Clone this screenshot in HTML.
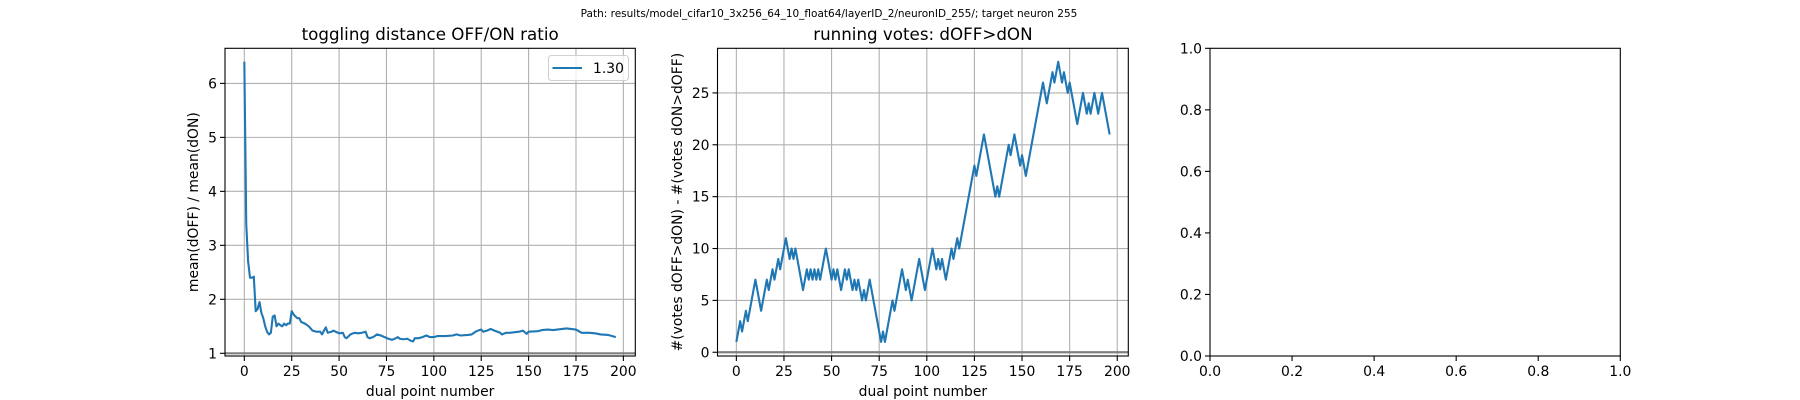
<!DOCTYPE html>
<html><head><meta charset="utf-8">
<style>
html,body{margin:0;padding:0;background:#fff;}
svg{display:block;font-family:"DejaVu Sans","Liberation Sans",sans-serif;}
</style></head>
<body>
<svg id="fig" width="1800" height="400" viewBox="0 0 1800 400">
<text x="829" y="17" font-size="10.5" text-anchor="middle" fill="#000">Path: results/model_cifar10_3x256_64_10_float64/layerID_2/neuronID_255/; target neuron 255</text>
</svg>
<script>
// Panel 1 data: ratio mean(dOFF)/mean(dON)
const ratioX = [0,1,2,3,4,5,6,7,8,9,10,11,12,13,14,15,16,17,18,19,20,21,22,23,24,25,26,27,28,29,30,32,34,36,38,40,41,42,43,44,46,47,50,52,53,54,56,58,60,62,64,65,66,68,70,72,74,76,78,80,81,82,84,86,88,89,90,92,94,96,98,100,102,106,110,112,114,118,120,122,124,125,126,128,130,132,135,136,138,140,145,147,149,150,155,157,160,163,165,170,175,178,182,185,188,192,194,196];
const ratioY = [6.4,3.4,2.7,2.4,2.4,2.42,1.78,1.82,1.95,1.75,1.65,1.5,1.4,1.35,1.38,1.68,1.7,1.5,1.55,1.52,1.5,1.55,1.52,1.55,1.55,1.78,1.72,1.68,1.65,1.65,1.58,1.55,1.5,1.42,1.4,1.4,1.35,1.42,1.48,1.38,1.4,1.42,1.37,1.38,1.3,1.28,1.35,1.38,1.37,1.38,1.4,1.3,1.28,1.3,1.35,1.33,1.3,1.27,1.25,1.28,1.3,1.27,1.26,1.27,1.23,1.22,1.28,1.28,1.3,1.33,1.3,1.3,1.32,1.32,1.33,1.35,1.33,1.34,1.35,1.4,1.43,1.44,1.4,1.42,1.45,1.42,1.38,1.35,1.38,1.38,1.4,1.42,1.36,1.4,1.41,1.43,1.44,1.43,1.44,1.46,1.44,1.38,1.38,1.37,1.35,1.34,1.32,1.3];
const ratioYTicks = [1,2,3,4,5,6];
const xTicks = [0,25,50,75,100,125,150,175,200];
const legendLabel = "1.30";

// Panel 2 data: running votes (turning points of the walk)
const votesX = [0,2,3,5,6,10,13,16,17,19,20,22,23,26,28,29,30,31,35,37,38,39,40,41,42,43,44,47,50,51,52,53,55,57,58,59,61,62,63,64,66,67,68,70,76,77,78,82,83,87,89,90,92,96,99,103,105,106,107,108,110,113,114,116,117,125,126,130,136,137,138,143,144,146,149,150,152,161,163,166,167,169,171,172,174,175,179,182,184,185,186,188,190,192,196];
const votesY = [1,3,2,4,3,7,4,7,6,8,7,9,8,11,9,10,9,10,6,8,7,8,7,8,7,8,7,10,7,8,7,8,6,8,7,8,6,7,6,7,5,6,5,7,1,2,1,5,4,8,6,7,5,9,6,10,8,9,8,9,7,10,9,11,10,18,17,21,15,16,15,20,19,21,18,19,17,26,24,27,26,28,26,27,25,26,22,25,23,24,23,25,23,25,21];
const votesYTicks = [0,5,10,15,20,25];

// Panel 3 (empty)
const unitTicks = [0,0.2,0.4,0.6,0.8,1.0];
const unitLabels = ["0.0","0.2","0.4","0.6","0.8","1.0"];

const NS = "http://www.w3.org/2000/svg";
const fig = document.getElementById('fig');
function mk(tag, attrs, parent){
  const e = document.createElementNS(NS, tag);
  for (const k in attrs) e.setAttribute(k, attrs[k]);
  (parent||fig).appendChild(e);
  return e;
}
function makeScale(d0,d1,r0,r1){ return v => r0 + (v-d0)/(d1-d0)*(r1-r0); }

const TOP = 48.3, BOT = 356;

function panel(opts){
  const g = mk('g', {});
  
  
  const sx = makeScale(opts.xlim[0], opts.xlim[1], opts.left, opts.right);
  const sy = makeScale(opts.ylim[0], opts.ylim[1], BOT, TOP);
  if (opts.grid){
    opts.xt.forEach(v=>{ const x=sx(v);
      const l=mk('line',{x1:x,x2:x,y1:TOP,y2:BOT,stroke:'#b0b0b0','stroke-width':1.1},g);
        });
    opts.yt.forEach(v=>{ const y=sy(v);
      const l=mk('line',{x1:opts.left,x2:opts.right,y1:y,y2:y,stroke:'#b0b0b0','stroke-width':1.1},g);
        });
  }
  if (opts.hline !== undefined){
    const y = sy(opts.hline);
    const l=mk('line',{x1:opts.left,x2:opts.right,y1:y,y2:y,stroke:'#808080','stroke-width':2.2},g);
     
  }
  if (opts.sx){
    const pts = opts.sx.map((v,i)=>sx(v).toFixed(2)+','+sy(opts.sy[i]).toFixed(2)).join(' ');
    const p = mk('polyline',{points:pts,fill:'none',stroke:'#1f77b4','stroke-width':2.1,'stroke-linejoin':'round'},g);
    
    
  }
  const fr = mk('rect',{x:opts.left,y:TOP,width:opts.right-opts.left,height:BOT-TOP,fill:'none',stroke:'#000','stroke-width':1.1},g);
   
  opts.xt.forEach((v,i)=>{ const x=sx(v);
    mk('line',{x1:x,x2:x,y1:BOT,y2:BOT+5,stroke:'#000','stroke-width':1.1},g);
    const t=mk('text',{x:x,y:BOT+20,'font-size':13.9,'text-anchor':'middle',fill:'#000'},g);
    t.textContent = opts.xl ? opts.xl[i] : String(v);
      });
  opts.yt.forEach((v,i)=>{ const y=sy(v);
    mk('line',{x1:opts.left-5,x2:opts.left,y1:y,y2:y,stroke:'#000','stroke-width':1.1},g);
    const t=mk('text',{x:opts.left-8,y:y+5,'font-size':13.9,'text-anchor':'end',fill:'#000'},g);
    t.textContent = opts.yl ? opts.yl[i] : String(v);
      });
  const cx = (opts.left+opts.right)/2;
  if (opts.title){
    const t=mk('text',{x:cx,y:40,'font-size':16.7,'text-anchor':'middle',fill:'#000'},g);
    t.textContent=opts.title;  
  }
  if (opts.xlabel){
    const t=mk('text',{x:cx,y:396,'font-size':13.9,'text-anchor':'middle',fill:'#000'},g);
    t.textContent=opts.xlabel;  
  }
  if (opts.ylabel){
    const yc=(TOP+BOT)/2;
    const t=mk('text',{x:opts.ylx,y:yc,'font-size':13.9,'text-anchor':'middle',fill:'#000',transform:`rotate(-90 ${opts.ylx} ${yc})`},g);
    t.textContent=opts.ylabel;  
  }
  return g;
}

const g1 = panel({name:'ratio-panel',left:225,right:635.3,xlim:[-10.2,206.3],ylim:[0.95,6.65],
  xt:xTicks,yt:ratioYTicks,grid:true,hline:1,sx:ratioX,sy:ratioY,seriesName:'ratio-line',
  title:'toggling distance OFF/ON ratio',xlabel:'dual point number',ylabel:'mean(dOFF) / mean(dON)',ylx:198});
// legend
const lg = mk('g',{},g1);
 
mk('rect',{x:548.5,y:55.5,width:80,height:25,rx:3,fill:'#fff','fill-opacity':0.8,stroke:'#d0d0d0','stroke-width':1},lg);
const ll = mk('line',{x1:552.5,x2:582,y1:68,y2:68,stroke:'#1f77b4','stroke-width':2.1},lg);
 
const lt = mk('text',{x:593,y:73,'font-size':13.9,fill:'#000'},lg);
lt.textContent = legendLabel;
 

panel({name:'votes-panel',left:717.5,right:1128.3,xlim:[-9.9,205.8],ylim:[-0.36,29.3],
  xt:xTicks,yt:votesYTicks,grid:true,hline:0,sx:votesX,sy:votesY,seriesName:'votes-line',
  title:'running votes: dOFF>dON',xlabel:'dual point number',ylabel:'#(votes dOFF>dON) - #(votes dON>dOFF)',ylx:682});

panel({name:'empty-panel',left:1210,right:1620.3,xlim:[0,1],ylim:[0,1],
  xt:unitTicks,yt:unitTicks,xl:unitLabels,yl:unitLabels,grid:false});
</script>
</body></html>
